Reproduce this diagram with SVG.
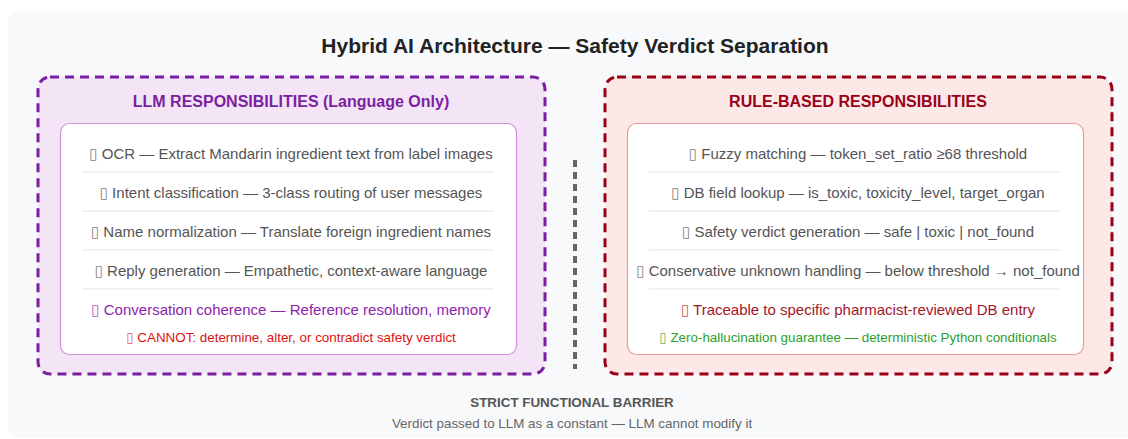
<svg xmlns="http://www.w3.org/2000/svg" width="1128" height="439" viewBox="0 0 1128 439">
<style>
text{font-family:"Liberation Sans",Arial,sans-serif;text-anchor:middle}
.title{font-size:21px;font-weight:bold;fill:#222}
.hdr{font-size:16px;font-weight:bold}
.item{font-size:15px;fill:#555}
.small{font-size:13.4px}
.bx{font-family:"DejaVu Sans",sans-serif;opacity:0.75}
.sep{stroke:#eeeeee;stroke-width:1.5}
</style>
<rect x="8" y="11" width="1135" height="427" rx="10" fill="#f8f9fb"/>
<text class="title" x="575" y="53">Hybrid AI Architecture — Safety Verdict Separation</text>
<g id="llm">
<rect x="38" y="77" width="507" height="297" rx="12" fill="#f3e5f5" stroke="#7b1fa2" stroke-width="3" stroke-dasharray="9,6"/>
<text class="hdr" x="291" y="107" fill="#7b1fa2">LLM RESPONSIBILITIES (Language Only)</text>
<rect x="60.5" y="123.5" width="456" height="231" rx="9" fill="#fff" stroke="#ce93d8" stroke-width="1.2"/>
<text class="item" x="291" y="159"><tspan class="bx">▯</tspan> OCR — Extract Mandarin ingredient text from label images</text>
<line class="sep" x1="82" y1="172" x2="494" y2="172"/>
<text class="item" x="291" y="198"><tspan class="bx">▯</tspan> Intent classification — 3-class routing of user messages</text>
<line class="sep" x1="82" y1="211" x2="494" y2="211"/>
<text class="item" x="291" y="237"><tspan class="bx">▯</tspan> Name normalization — Translate foreign ingredient names</text>
<line class="sep" x1="82" y1="250" x2="494" y2="250"/>
<text class="item" x="291" y="276"><tspan class="bx">▯</tspan> Reply generation — Empathetic, context-aware language</text>
<line class="sep" x1="82" y1="289" x2="494" y2="289"/>
<text class="item" x="291" y="315" style="fill:#8e24aa"><tspan class="bx">▯</tspan> Conversation coherence — Reference resolution, memory</text>
<text class="small" x="291" y="342" fill="#dd1111"><tspan class="bx">▯</tspan> CANNOT: determine, alter, or contradict safety verdict</text>
</g>
<g id="connectors">
<line x1="575" y1="160" x2="575" y2="369" stroke="#666" stroke-width="4" stroke-dasharray="7,5"/>
</g>
<g id="rules">
<rect x="605" y="77" width="507" height="297" rx="12" fill="#fde8e8" stroke="#9b0019" stroke-width="3" stroke-dasharray="9,6"/>
<text class="hdr" x="858" y="107" fill="#9b0019">RULE-BASED RESPONSIBILITIES</text>
<rect x="627.5" y="123.5" width="456" height="231" rx="9" fill="#fff" stroke="#ef9a9a" stroke-width="1.2"/>
<text class="item" x="858" y="159"><tspan class="bx">▯</tspan> Fuzzy matching — token_set_ratio ≥68 threshold</text>
<line class="sep" x1="649" y1="172" x2="1061" y2="172"/>
<text class="item" x="858" y="198"><tspan class="bx">▯</tspan> DB field lookup — is_toxic, toxicity_level, target_organ</text>
<line class="sep" x1="649" y1="211" x2="1061" y2="211"/>
<text class="item" x="858" y="237"><tspan class="bx">▯</tspan> Safety verdict generation — safe | toxic | not_found</text>
<line class="sep" x1="649" y1="250" x2="1061" y2="250"/>
<text class="item" x="858" y="276"><tspan class="bx">▯</tspan> Conservative unknown handling — below threshold → not_found</text>
<line class="sep" x1="649" y1="289" x2="1061" y2="289"/>
<text class="item" x="858" y="315" style="fill:#a3162a"><tspan class="bx">▯</tspan> Traceable to specific pharmacist-reviewed DB entry</text>
<text class="small" x="858" y="342" fill="#2ca02c"><tspan class="bx">▯</tspan> Zero-hallucination guarantee — deterministic Python conditionals</text>
</g>
<g id="barrier">
<text class="small" x="572" y="407" font-weight="bold" fill="#555">STRICT FUNCTIONAL BARRIER</text>
<text class="small" x="572" y="428" fill="#666">Verdict passed to LLM as a constant — LLM cannot modify it</text>
</g>
</svg>
